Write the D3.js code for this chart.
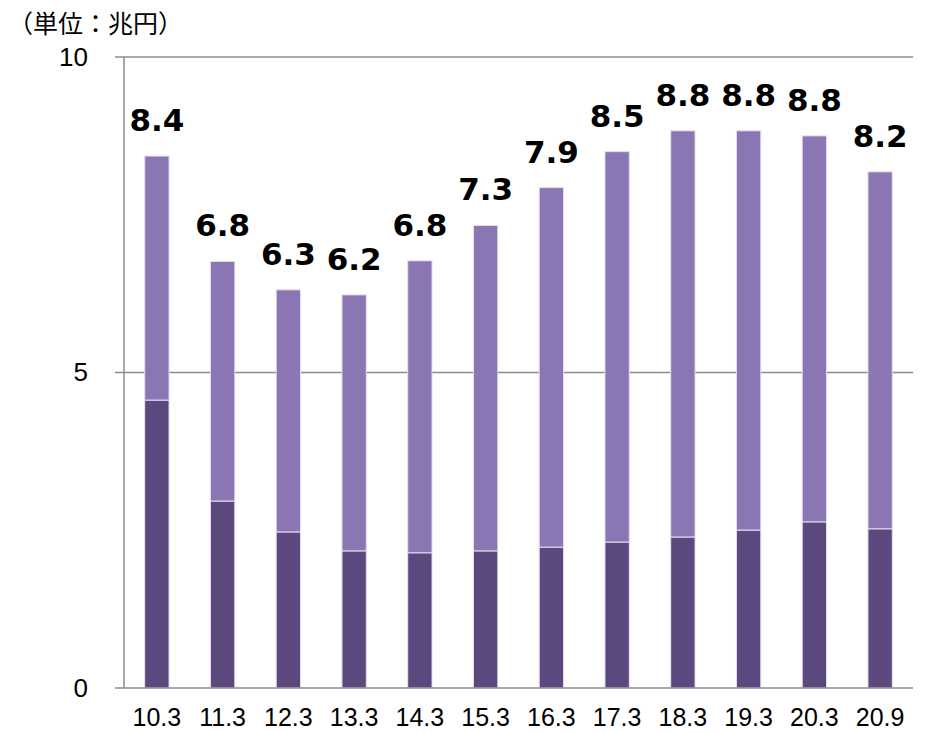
<!DOCTYPE html>
<html><head><meta charset="utf-8">
<script src="https://cdn.jsdelivr.net/npm/d3@7"></script>
<style>body{margin:0;background:#fff}</style>
</head><body>
<svg id="c" width="941" height="733"></svg>
<script>
const categories = ["10.3","11.3","12.3","13.3","14.3","15.3","16.3","17.3","18.3","19.3","20.3","20.9"];
const lowerValues = [4.56,2.96,2.47,2.17,2.14,2.17,2.23,2.31,2.39,2.50,2.63,2.52];
const totalValues = [8.43,6.76,6.31,6.23,6.77,7.33,7.93,8.50,8.83,8.83,8.75,8.18];
const totalLabels = ["8.4","6.8","6.3","6.2","6.8","7.3","7.9","8.5","8.8","8.8","8.8","8.2"];
const yTicks = [0,5,10];
const unitLabel = "（単位：兆円）";

(function(){
const svg = d3.select("#c");
const mL = 124, mR = 913, mT = 57, mB = 688;
const x = d3.scaleBand().domain(categories).range([mL,mR]).paddingInner(0.63).paddingOuter(0.315);
const y = d3.scaleLinear().domain([0,10]).range([mB,mT]);

// gridlines
svg.append("g").selectAll("line").data(yTicks.filter(d=>d>0)).join("line")
  .attr("x1",115).attr("x2",mR).attr("y1",d=>y(d)).attr("y2",d=>y(d))
  .attr("stroke","#8c8c8c").attr("stroke-width",1.3);

// y axis
const ya = d3.axisLeft(y).tickValues(yTicks).tickSize(0).tickPadding(36);
const gy = svg.append("g").attr("transform",`translate(${mL},0)`).call(ya);
gy.select(".domain").remove();
gy.selectAll("text").attr("font-family","'Liberation Sans',Arial,sans-serif").attr("font-size",26).attr("fill","#000");
svg.append("line").attr("x1",mL).attr("x2",mL).attr("y1",mT).attr("y2",mB)
  .attr("stroke","#8c8c8c").attr("stroke-width",1.5);

// bars
const data = categories.map((c,i)=>({c,lo:lowerValues[i],tot:totalValues[i],lab:totalLabels[i]}));
svg.append("g").selectAll("rect").data(data).join("rect")
  .attr("x",d=>x(d.c)).attr("width",x.bandwidth())
  .attr("y",d=>y(d.tot)).attr("height",d=>y(d.lo)-y(d.tot))
  .attr("fill","#8a76b2").attr("stroke","#e6def2").attr("stroke-width",1);
svg.append("g").selectAll("rect").data(data).join("rect")
  .attr("x",d=>x(d.c)).attr("width",x.bandwidth())
  .attr("y",d=>y(d.lo)).attr("height",d=>y(0)-y(d.lo))
  .attr("fill","#5a487e").attr("stroke","#e6def2").attr("stroke-width",1);

// x axis
svg.append("line").attr("x1",115).attr("x2",mR).attr("y1",mB).attr("y2",mB)
  .attr("stroke","#8c8c8c").attr("stroke-width",1.5);
const xa = d3.axisBottom(x).tickSize(0).tickPadding(20);
const gx = svg.append("g").attr("transform",`translate(0,${mB})`).call(xa);
gx.select(".domain").remove();
gx.selectAll("text").attr("font-family","'Liberation Sans',Arial,sans-serif").attr("font-size",25).attr("fill","#000");

// labels
svg.append("g").selectAll("text").data(data).join("text")
  .attr("x",d=>x(d.c)+x.bandwidth()/2).attr("y",d=>y(d.tot)-25)
  .attr("text-anchor","middle").attr("font-family","'DejaVu Sans',Verdana,sans-serif")
  .attr("font-weight","bold").attr("font-size",31).attr("fill","#000").text(d=>d.lab);

svg.append("text").attr("x",8).attr("y",33).attr("font-family","'Noto Sans CJK JP',sans-serif")
  .attr("font-size",25).attr("fill","#000").text(unitLabel);
})();
</script>
</body></html>
